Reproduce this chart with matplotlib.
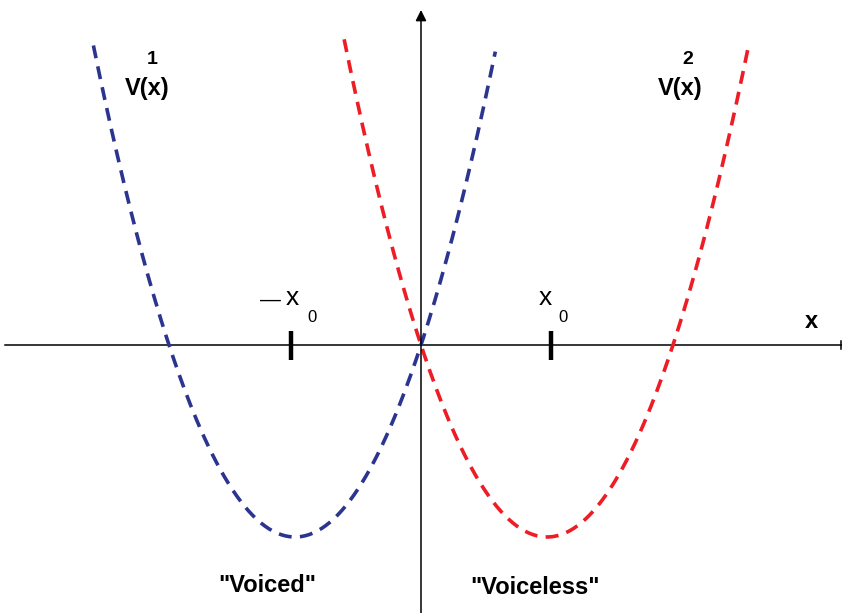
import numpy as np
import matplotlib
matplotlib.use('Agg')
import matplotlib.pyplot as plt

plt.rcParams['font.family'] = ['Liberation Sans', 'DejaVu Sans']

# Two displaced wells: V1 centred at -x0, V2 centred at +x0 (x0 = 1)
x0 = 1.0
depth = 1.0
x_voiced = np.linspace(-2.60, 0.59, 200)
x_voiceless = np.linspace(-0.61, 2.60, 200)
tick_pos = [-1.03, 1.03]
well_labels = ['"Voiced"', '"Voiceless"']
well_colors = ['#2b3590', '#ee1c25']


def well(x, centre):
    return (x - centre) ** 2 - depth


fig = plt.figure(figsize=(8.42, 6.13), dpi=100)
ax = fig.add_axes([0, 0, 1, 1])
# pixel -> data: x = (px - 421) / 126, y = (345 - py) / 192
ax.set_xlim(-421 / 126, 421 / 126)
ax.set_ylim(-268 / 192, 345 / 192)
ax.axis('off')

# coordinate axes
ax.plot([-416 / 126, 421 / 126], [0, 0], color='k', lw=1.1)
ax.plot([420 / 126, 420 / 126], [-0.02, 0.02], color='k', lw=1.1)
ax.annotate('', xy=(0, 335 / 192), xytext=(0, -268 / 192),
            arrowprops=dict(arrowstyle='-|>', lw=1.1, color='k',
                            mutation_scale=16, shrinkA=0, shrinkB=0))

# the two potentials
ax.plot(x_voiced, well(x_voiced, -x0), color=well_colors[0], lw=2.6,
        dashes=(3.6, 2.3))
ax.plot(x_voiceless, well(x_voiceless, x0), color=well_colors[1], lw=2.6,
        dashes=(3.6, 2.3))

# tick marks at +/- x0
for c in tick_pos:
    ax.plot([c, c], [-15 / 192, 14 / 192], color='k', lw=3.2,
            solid_capstyle='butt')

# labels (positions in pixel space via data conversion)
def px(x, y):
    return (x - 421) / 126, (345 - y) / 192


ax.text(*px(147, 88), 'V(x)', fontsize=17, fontweight='bold',
        ha='center', va='center')
ax.text(*px(152, 60), '1', fontsize=14, fontweight='bold',
        ha='center', va='center')
ax.text(*px(680, 88), 'V(x)', fontsize=17, fontweight='bold',
        ha='center', va='center')
ax.text(*px(688, 60), '2', fontsize=14, fontweight='bold',
        ha='center', va='center')
ax.text(*px(811, 322), 'x', fontsize=17, fontweight='bold',
        ha='center', va='center')

ax.text(*px(270, 300), '\u2014', fontsize=15, ha='center', va='center')
ax.text(*px(292, 298), 'x', fontsize=19, ha='center', va='center')
ax.text(*px(312, 318), '0', fontsize=12, ha='center', va='center')
ax.text(*px(545, 298), 'x', fontsize=19, ha='center', va='center')
ax.text(*px(563, 318), '0', fontsize=12, ha='center', va='center')

ax.text(*px(267, 585), well_labels[0], fontsize=17, fontweight='bold',
        ha='center', va='center')
ax.text(*px(535, 587), well_labels[1], fontsize=17, fontweight='bold',
        ha='center', va='center')

fig.savefig('out.png', dpi=100)
